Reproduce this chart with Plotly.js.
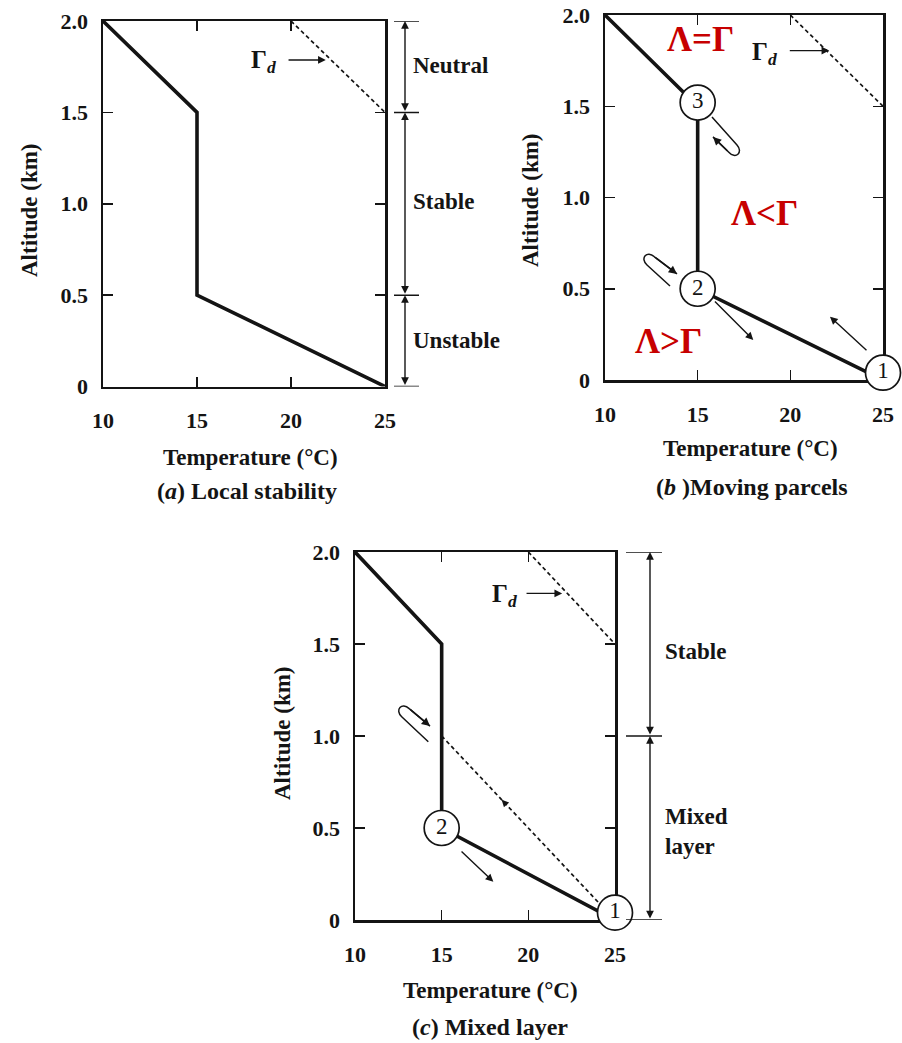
<!DOCTYPE html>
<html>
<head>
<meta charset="utf-8">
<script src="https://cdn.plot.ly/plotly-3.0.1.min.js"></script>
<style>
  html, body { margin: 0; padding: 0; background: #ffffff; }
  #chart { width: 902px; height: 1043px; }
</style>
</head>
<body>
<div id="chart"></div>
<script>
// ---- Environmental temperature profile (°C against km) ----
const profileT = [25, 15, 15, 10];
const profileZ = [0, 0.5, 1.5, 2.0];

// ---- Dry adiabatic lapse rate reference line (Γd) ----
const dryT = [20, 25];
const dryZ = [2.0, 1.5];

// ---- Adiabat followed by parcels inside the mixed layer (panel c) ----
const mixT = [15, 25];
const mixZ = [1.0, 0];

// ---- Numbered parcel positions ----
const parcelsB_T = [25, 15, 15];
const parcelsB_Z = [0.04, 0.5, 1.52];
const parcelsB_label = ['1', '2', '3'];
const parcelsC_T = [25, 15];
const parcelsC_Z = [0.04, 0.5];
const parcelsC_label = ['1', '2'];

// ---- Axis ticks ----
const xTicks = [10, 15, 20, 25];
const xTickText = ['10', '15', '20', '25'];
const yTicks = [0, 0.5, 1.0, 1.5, 2.0];
const yTickText = ['0', '0.5', '1.0', '1.5', '2.0'];

// ---- Stability bands beside panels (a) and (c) ----
const bandsA_levels = [0, 0.5, 1.5, 2.0];
const bandsA_labels = ['Unstable', 'Stable', 'Neutral'];
const bandsA_labelZ = [0.254, 1.01, 1.759];
const bandsC_levels = [0, 1.0, 2.0];
const bandsC_labels = ['Mixed<br>layer', 'Stable'];
const bandsC_labelZ = [0.48, 1.457];

// ---- Parcel displacement arrows: tail -> head ----
const moveB_tailT = [24.19, 15.85];
const moveB_tailZ = [0.155, 0.438];
const moveB_headT = [22.14, 18.0];
const moveB_headZ = [0.347, 0.219];
const moveC_tailT = [16.06];
const moveC_tailZ = [0.380];
const moveC_headT = [17.98];
const moveC_headZ = [0.208];

// ---- Hairpin paths of oscillating parcels: start, bend, control, control, return, tip ----
const loopB3_T = [15.773, 17.122, 17.484, 17.041, 16.680, 15.827];
const loopB3_Z = [1.441, 1.288, 1.247, 1.207, 1.248, 1.332];
const loopB2_T = [13.507, 12.266, 11.867, 12.266, 12.666, 13.885];
const loopB2_Z = [0.515, 0.630, 0.667, 0.712, 0.675, 0.581];
const loopC_T = [14.229, 12.694, 12.273, 12.706, 13.127, 14.327];
const loopC_Z = [0.969, 1.105, 1.142, 1.185, 1.149, 1.054];

// ---- Lapse-rate comparison labels in panel (b) ----
const regimeText = ['Λ=Γ', 'Λ&lt;Γ', 'Λ&gt;Γ'];
const regimeT = [15.13, 18.63, 13.42];
const regimeZ = [1.863, 0.913, 0.21];

const SERIF = 'Liberation Serif, Times New Roman, serif';
const INK = '#141414';
const W = 902, H = 1043;
const BOLD = 'bold';

function xAxis(domain, anchor, layer) {
  return {
    domain: domain, anchor: anchor, range: [10, 25],
    tickmode: 'array', tickvals: xTicks, ticktext: xTickText,
    ticks: 'inside', ticklen: 10, tickwidth: 1.5, tickcolor: INK,
    showline: true, linewidth: 2.5, linecolor: INK, mirror: 'ticks',
    showgrid: false, zeroline: false, ticklabelstandoff: 13,
    tickfont: { family: SERIF, size: 22, color: INK, weight: BOLD },
    fixedrange: true, layer: layer
  };
}
function yAxis(domain, anchor, layer) {
  return {
    domain: domain, anchor: anchor, range: [0, 2],
    tickmode: 'array', tickvals: yTicks, ticktext: yTickText,
    ticks: 'inside', ticklen: 10, tickwidth: 1.5, tickcolor: INK,
    showline: true, linewidth: 2.5, linecolor: INK, mirror: 'ticks',
    showgrid: false, zeroline: false, ticklabelstandoff: 8,
    tickfont: { family: SERIF, size: 22, color: INK, weight: BOLD },
    fixedrange: true, layer: layer
  };
}

const traces = [];
function addProfile(xa, ya) {
  traces.push({ x: profileT, y: profileZ, xaxis: xa, yaxis: ya, mode: 'lines',
    line: { color: INK, width: 3.6 }, hoverinfo: 'skip' });
}
function addDashed(xs, zs, xa, ya) {
  traces.push({ x: xs, y: zs, xaxis: xa, yaxis: ya, mode: 'lines',
    line: { color: INK, width: 1.7, dash: '4px,3px' }, hoverinfo: 'skip' });
}
function addParcels(ts, zs, labels, xa, ya) {
  traces.push({ x: ts, y: zs, xaxis: xa, yaxis: ya, mode: 'markers+text',
    text: labels, textposition: 'middle center', cliponaxis: false,
    textfont: { family: SERIF, size: 23, color: INK },
    marker: { symbol: 'circle', size: 35, color: '#ffffff', line: { color: INK, width: 1.7 } },
    hoverinfo: 'skip' });
}

// Panel (a)
addDashed(dryT, dryZ, 'x', 'y');
addProfile('x', 'y');
// Panel (b)
addDashed(dryT, dryZ, 'x2', 'y2');
addProfile('x2', 'y2');
addParcels(parcelsB_T, parcelsB_Z, parcelsB_label, 'x2', 'y2');
// Panel (c)
addDashed(dryT, dryZ, 'x3', 'y3');
addDashed(mixT, mixZ, 'x3', 'y3');
addProfile('x3', 'y3');
addParcels(parcelsC_T, parcelsC_Z, parcelsC_label, 'x3', 'y3');

const annotations = [];
const shapes = [];

function paperText(text, px, py, size, angle) {
  annotations.push({ xref: 'paper', yref: 'paper', x: px / W, y: 1 - py / H,
    text: text, showarrow: false, xanchor: 'center', yanchor: 'middle',
    textangle: angle || 0, font: { family: SERIF, size: size, color: INK, weight: BOLD } });
}
function dataArrow(xa, ya, tT, tZ, hT, hZ, width) {
  annotations.push({ xref: xa, yref: ya, axref: xa, ayref: ya,
    x: hT, y: hZ, ax: tT, ay: tZ, text: '', showarrow: true,
    arrowhead: 2, arrowsize: 1.1, arrowwidth: width || 1.3, arrowcolor: INK,
    standoff: 0, startstandoff: 0 });
}
function gammaD(xa, ya, lt, lz, tT, hT, az) {
  annotations.push({ xref: xa, yref: ya, x: lt, y: lz, text: 'Γ<sub><i>d</i></sub>',
    showarrow: false, font: { family: SERIF, size: 25, color: INK, weight: BOLD } });
  dataArrow(xa, ya, tT, az, hT, az, 1.4);
}
function hairpin(xa, ya, ts, zs) {
  const p = (i) => ts[i] + ',' + zs[i];
  shapes.push({ type: 'path', xref: xa, yref: ya,
    path: 'M' + p(0) + ' L' + p(1) + ' C' + p(2) + ' ' + p(3) + ' ' + p(4) + ' L' + p(5),
    line: { color: INK, width: 1.5 } });
  dataArrow(xa, ya, ts[4], zs[4], ts[5], zs[5], 1.5);
}
function bands(ya, xLine, xTick0, xTick1, xLabel, levels, labels, labelZ) {
  for (let i = 0; i < levels.length; i++) {
    shapes.push({ type: 'line', xref: 'paper', yref: ya, x0: xTick0 / W, x1: xTick1 / W,
      y0: levels[i], y1: levels[i], line: { color: INK, width: 1.5 } });
  }
  for (let i = 0; i < labels.length; i++) {
    annotations.push({ xref: 'paper', yref: ya, x: xLine / W, y: levels[i + 1],
      axref: 'pixel', ayref: ya, ax: 0, ay: levels[i], text: '', showarrow: true,
      arrowhead: 2, arrowside: 'end+start', arrowsize: 1.1, arrowwidth: 1.4,
      arrowcolor: INK, standoff: 0, startstandoff: 0 });
    annotations.push({ xref: 'paper', yref: ya, x: xLabel / W, y: labelZ[i],
      text: labels[i], showarrow: false, xanchor: 'left', yanchor: 'middle', align: 'left',
      font: { family: SERIF, size: 23, color: INK, weight: BOLD } });
  }
}

// ---- Panel (a): local stability ----
gammaD('x', 'y', 18.56, 1.776, 19.79, 21.85, 1.787);
bands('y', 405, 394, 419, 411, bandsA_levels, bandsA_labels, bandsA_labelZ);
paperText('Altitude (km)', 30, 210, 23, -90);
paperText('Temperature (°C)', 250, 458, 23);
paperText('(<i>a</i>) Local stability', 247, 491, 24);

// ---- Panel (b): moving parcels ----
gammaD('x2', 'y2', 18.63, 1.79, 19.89, 22.1, 1.805);
for (let i = 0; i < moveB_tailT.length; i++) {
  dataArrow('x2', 'y2', moveB_tailT[i], moveB_tailZ[i], moveB_headT[i], moveB_headZ[i], 1.4);
}
hairpin('x2', 'y2', loopB3_T, loopB3_Z);
hairpin('x2', 'y2', loopB2_T, loopB2_Z);
for (let i = 0; i < regimeText.length; i++) {
  annotations.push({ xref: 'x2', yref: 'y2', x: regimeT[i], y: regimeZ[i], text: regimeText[i],
    showarrow: false, font: { family: SERIF, size: 35, color: '#c70000', weight: BOLD } });
}
paperText('Altitude (km)', 530, 200, 23, -90);
paperText('Temperature (°C)', 750, 448, 23);
paperText('(<i>b</i> )Moving parcels', 752, 487, 24);

// ---- Panel (c): mixed layer ----
gammaD('x3', 'y3', 18.65, 1.766, 19.81, 21.95, 1.775);
for (let i = 0; i < moveC_tailT.length; i++) {
  dataArrow('x3', 'y3', moveC_tailT[i], moveC_tailZ[i], moveC_headT[i], moveC_headZ[i], 1.4);
}
hairpin('x3', 'y3', loopC_T, loopC_Z);
// direction marker along the mixed-layer adiabat
dataArrow('x3', 'y3', 18.75, 0.625, 18.46, 0.654, 1.3);
bands('y3', 650, 626, 662, 663, bandsC_levels, bandsC_labels, bandsC_labelZ);
paperText('Altitude (km)', 282, 733, 23, -90);
paperText('Temperature (°C)', 490, 990, 23);
paperText('(<i>c</i>) Mixed layer', 490, 1027, 24);

const layout = {
  width: W, height: H,
  margin: { l: 0, r: 0, t: 0, b: 0 },
  paper_bgcolor: '#ffffff', plot_bgcolor: 'rgba(0,0,0,0)',
  showlegend: false,
  xaxis: xAxis([103 / W, 385 / W], 'y', 'above traces'),
  yaxis: yAxis([1 - 386.5 / H, 1 - 21 / H], 'x', 'above traces'),
  xaxis2: xAxis([605 / W, 883 / W], 'y2', 'below traces'),
  yaxis2: yAxis([1 - 380 / H, 1 - 15 / H], 'x2', 'below traces'),
  xaxis3: xAxis([355 / W, 615 / W], 'y3', 'below traces'),
  yaxis3: yAxis([1 - 920 / H, 1 - 552 / H], 'x3', 'below traces'),
  annotations: annotations,
  shapes: shapes
};

Plotly.newPlot('chart', traces, layout, { staticPlot: true, displayModeBar: false });
</script>
</body>
</html>
